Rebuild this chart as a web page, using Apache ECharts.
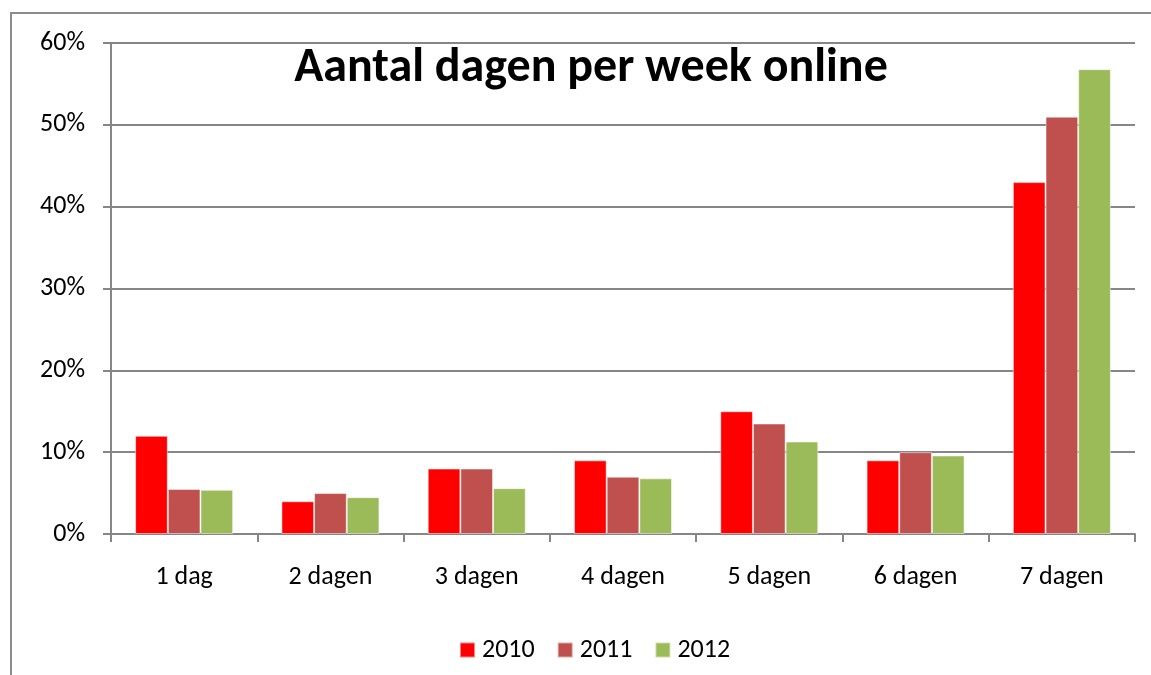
<!DOCTYPE html>
<html>
<head>
<meta charset="utf-8">
<script src="https://cdn.jsdelivr.net/npm/echarts@6/dist/echarts.min.js"></script>
<style>
  html, body { margin: 0; padding: 0; background: #fff; }
  #chart { width: 1151px; height: 675px; }
</style>
</head>
<body>
<div id="chart"></div>
<script>
const categories = ["1 dag", "2 dagen", "3 dagen", "4 dagen", "5 dagen", "6 dagen", "7 dagen"];
const years = ["2010", "2011", "2012"];
const values2010 = [12, 4, 8, 9, 15, 9, 43];
const values2011 = [5.5, 5, 8, 7, 13.5, 10, 51];
const values2012 = [5.4, 4.5, 5.6, 6.8, 11.3, 9.6, 56.8];
const colors = ["#ff0000", "#c0504d", "#9bbb59"];

const font = "Carlito, 'Open Sans', 'Noto Sans', sans-serif";
const chart = echarts.init(document.getElementById("chart"));

const makeSeries = (name, data, color) => ({
  name: name,
  type: "bar",
  data: data,
  barGap: "0%",
  barCategoryGap: "33%",
  itemStyle: { color: color, borderColor: "rgba(255,255,255,0.5)", borderWidth: 1 },
});

chart.setOption({
  animation: false,
  textStyle: { fontFamily: font },
  graphic: [
    {
      type: "rect",
      shape: { x: 11, y: 13, width: 1200, height: 700 },
      style: { fill: "none", stroke: "#8c8c8c", lineWidth: 2 },
      z: -1,
    },
  ],
  title: {
    text: "Aantal dagen per week online",
    left: 586,
    top: 40,
    textAlign: "center",
    textStyle: { fontFamily: font, fontSize: 48, fontWeight: "bold", color: "#000" },
  },
  legend: {
    data: years,
    top: 632,
    left: 454,
    itemWidth: 15,
    itemHeight: 15,
    itemGap: 22,
    icon: "rect",
    textStyle: { fontFamily: font, fontSize: 26, color: "#000", padding: [0, 0, 0, 2] },
  },
  grid: {
    left: 111,
    right: 16,
    top: 43,
    bottom: 141,
    containLabel: false,
  },
  xAxis: {
    type: "category",
    data: categories,
    axisLine: { show: true, lineStyle: { color: "#868686", width: 2 } },
    axisTick: { show: true, length: 8, lineStyle: { color: "#868686", width: 2 } },
    axisLabel: { color: "#000", fontSize: 26, margin: 30, fontFamily: font },
  },
  yAxis: {
    type: "value",
    min: 0,
    max: 60,
    interval: 10,
    axisLine: { show: true, lineStyle: { color: "#868686", width: 2 } },
    axisTick: { show: true, length: 8, lineStyle: { color: "#868686", width: 2 } },
    axisLabel: { color: "#000", fontSize: 26, margin: 26, formatter: "{value}%", fontFamily: font },
    splitLine: { show: true, lineStyle: { color: "#868686", width: 2 } },
  },
  series: [
    makeSeries(years[0], values2010, colors[0]),
    makeSeries(years[1], values2011, colors[1]),
    makeSeries(years[2], values2012, colors[2]),
  ],
});
</script>
</body>
</html>
